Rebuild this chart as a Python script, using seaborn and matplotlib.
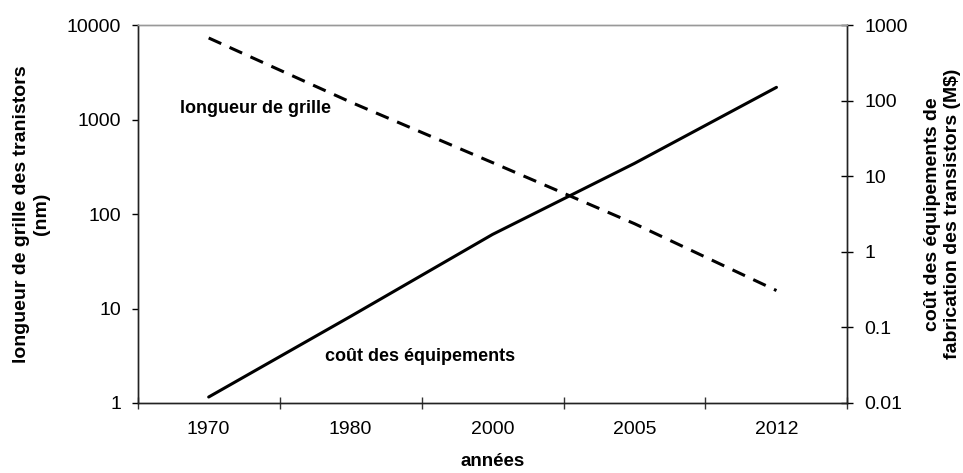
import matplotlib
matplotlib.use('Agg')

import numpy as np
import pandas as pd
import matplotlib.pyplot as plt
import seaborn as sns
from matplotlib.ticker import FixedLocator, NullLocator, NullFormatter

# values
annees = ['1970', '1980', '2000', '2005', '2012']
longueur_grille = [7300, 1530, 350, 79, 15.5]       # nm, left axis
cout_equipements = [0.012, 0.14, 1.7, 14.8, 150]    # M$, right axis
ticks_gauche = [1, 10, 100, 1000, 10000]
ticks_droite = [0.01, 0.1, 1, 10, 100, 1000]
labels_droite = ['0.01', '0.1', '1', '10', '100', '1000']

sns.set_style('ticks')
plt.rcParams['font.family'] = ['Liberation Sans', 'DejaVu Sans']
plt.rcParams['text.color'] = 'black'
plt.rcParams['axes.labelcolor'] = 'black'
plt.rcParams['xtick.color'] = 'black'
plt.rcParams['ytick.color'] = 'black'

df = pd.DataFrame({'pos': np.arange(len(annees)),
                   'grille': longueur_grille,
                   'cout': cout_equipements})

fig = plt.figure(figsize=(9.63, 4.73), dpi=100)
ax = fig.add_axes([0.143, 0.148, 0.737, 0.799])
ax2 = ax.twinx()

# gate length (dashed) and equipment cost (solid)
sns.lineplot(data=df, x='pos', y='grille', ax=ax, color='black',
             linewidth=2.2, linestyle=(0, (4.5, 3)))
sns.lineplot(data=df, x='pos', y='cout', ax=ax2, color='black', linewidth=2.2)

# x axis: categories, ticks between them
ax.set_xlim(-0.5, len(annees) - 0.5)
ax.xaxis.set_major_locator(FixedLocator(np.arange(-0.5, len(annees), 1.0)))
ax.xaxis.set_major_formatter(NullFormatter())
ax.set_xticks(np.arange(len(annees)), annees, minor=True)
ax.tick_params(axis='x', which='major', direction='inout', length=9, width=1, color='#333333')
ax.tick_params(axis='x', which='minor', length=0, pad=13, labelsize=14)

# left log axis
ax.set_yscale('log')
ax.set_ylim(1, 10000)
ax.yaxis.set_major_locator(FixedLocator(ticks_gauche))
ax.set_yticklabels([str(t) for t in ticks_gauche])
ax.yaxis.set_minor_locator(NullLocator())
ax.tick_params(axis='y', which='major', direction='out', length=4, width=1, pad=8, labelsize=14)
ax.set_ylabel('longueur de grille des tranistors\n(nm)', fontweight='bold', fontsize=14, labelpad=12)

# right log axis
ax2.set_yscale('log')
ax2.set_ylim(0.01, 1000)
ax2.yaxis.set_major_locator(FixedLocator(ticks_droite))
ax2.set_yticklabels(labels_droite)
ax2.yaxis.set_minor_locator(NullLocator())
ax2.tick_params(axis='y', which='major', direction='inout', length=8, width=1, pad=8, labelsize=14)
ax2.set_ylabel('coût des équipements de\nfabrication des transistors (M\\$)',
               fontweight='bold', fontsize=14, labelpad=12)

for a in (ax, ax2):
    for s in a.spines.values():
        s.set_color('#222222')
        s.set_linewidth(1)
    a.spines['top'].set_color('#999999')
ax2.set_xlabel('')
ax.set_xlabel('années', fontweight='bold', fontsize=13.5, labelpad=11)

# annotations
ax.text(-0.2, 1300, 'longueur de grille', fontweight='bold', fontsize=13,
        ha='left', va='center')
ax.text(0.82, 3.1, 'coût des équipements', fontweight='bold', fontsize=13,
        ha='left', va='center')

fig.savefig('out.png', dpi=100)
